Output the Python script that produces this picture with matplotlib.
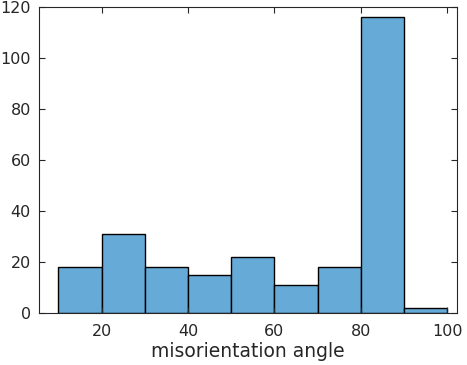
import matplotlib
matplotlib.use('Agg')
import matplotlib.pyplot as plt
import numpy as np

# histogram bins and counts
bin_edges = [10, 20, 30, 40, 50, 60, 70, 80, 90, 100]
counts = [18, 31, 18, 15, 22, 11, 18, 116, 2]
x_ticks = [20, 40, 60, 80, 100]
y_ticks = [0, 20, 40, 60, 80, 100, 120]

fig = plt.figure(figsize=(4.67, 3.65), dpi=100)
ax = fig.add_axes([0.084, 0.1425, 0.8946, 0.8385])

ax.bar(bin_edges[:-1], counts, width=np.diff(bin_edges), align='edge',
       facecolor='#66AAD7', edgecolor='black', linewidth=1.0)

ax.set_xlim(5.6, 102.2)
ax.set_ylim(0, 120)
ax.set_xticks(x_ticks)
ax.set_yticks(y_ticks)
ax.tick_params(direction='in', top=True, right=True, length=4, width=0.8,
               labelsize=11.5, labelcolor='#262626', color='#262626')
ax.tick_params(axis='x', pad=8)
ax.tick_params(axis='y', pad=6)
for s in ax.spines.values():
    s.set_linewidth(0.8)
    s.set_color('#262626')
ax.set_xlabel('misorientation angle', fontsize=13.5, color='#262626', labelpad=2)

fig.savefig('out.png', dpi=100)
